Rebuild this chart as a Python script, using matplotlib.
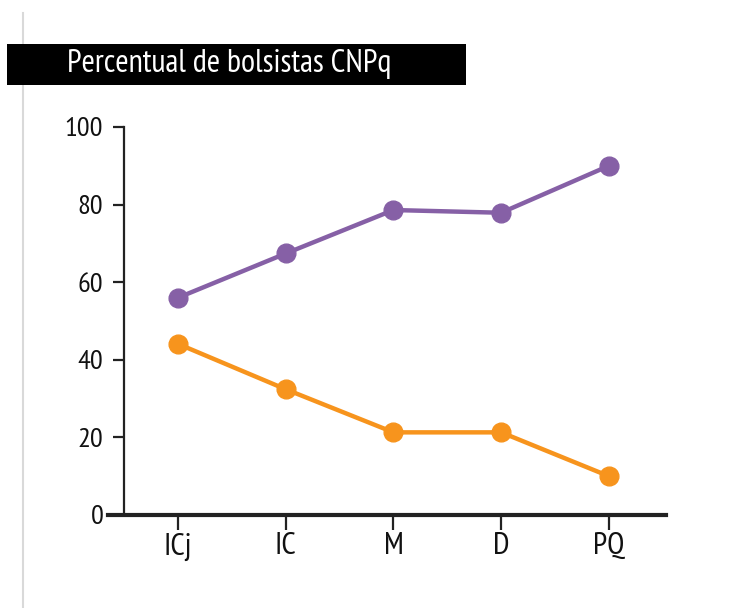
import matplotlib
matplotlib.use("Agg")
import matplotlib.pyplot as plt
from matplotlib import font_manager
from matplotlib.patches import Rectangle
from matplotlib.lines import Line2D

# data
categories = ["ICj", "IC", "M", "D", "PQ"]
purple_vals = [56.0, 67.4, 78.6, 77.9, 90.0]
orange_vals = [44.1, 32.4, 21.3, 21.3, 10.0]
y_ticks = [0, 20, 40, 60, 80, 100]
title = "Percentual de bolsistas CNPq"

PURPLE = "#8660a6"
ORANGE = "#f7941d"

# the original uses a condensed humanist sans; take the first one installed
installed = {f.name for f in font_manager.fontManager.ttflist}
prefs = ["PT Sans Narrow", "Fira Sans Condensed", "Roboto Condensed",
         "Encode Sans Condensed", "Open Sans Condensed", "Asap Condensed",
         "Liberation Sans Narrow", "Lato"]
main_font = next((f for f in prefs if f in installed), "DejaVu Sans")
plt.rcParams["font.family"] = [main_font, "DejaVu Sans"]

W, H = 730, 608
fig = plt.figure(figsize=(W / 100, H / 100), dpi=100)
fig.patch.set_facecolor("white")

# axes box in pixels: x 108..666, y 0 at 515, 100 at 127
ax = fig.add_axes([108 / W, (H - 515) / H, (666 - 108) / W, (515 - 127) / H])
ax.set_xlim(-0.65, 4.53)
ax.set_ylim(0, 100)

x = list(range(len(categories)))
ax.plot(x, purple_vals, color=PURPLE, lw=3.2, marker="o", ms=13.5,
        clip_on=False, zorder=3)
ax.plot(x, orange_vals, color=ORANGE, lw=3.2, marker="o", ms=13.5,
        clip_on=False, zorder=3)

for s in ["top", "right"]:
    ax.spines[s].set_visible(False)
ax.spines["left"].set_position(("data", -0.5))
ax.spines["left"].set_bounds(0, 100)
ax.spines["left"].set_linewidth(1.6)
ax.spines["bottom"].set_linewidth(3)
ax.spines["left"].set_color("#222222")
ax.spines["bottom"].set_color("#222222")

ax.set_yticks(y_ticks)
ax.set_yticklabels([str(v) for v in y_ticks])
ax.set_xticks(x)
ax.set_xticklabels(categories)
ax.tick_params(axis="y", length=8, width=1.6, pad=7, labelsize=20.5,
               color="#222222", labelcolor="#111111")
ax.tick_params(axis="x", length=10.5, width=1.6, pad=2, labelsize=22.5,
               color="#222222", labelcolor="#111111")

# title bar
fig.patches.append(Rectangle((7 / W, (H - 85) / H), (466 - 7) / W, 41 / H,
                             transform=fig.transFigure, facecolor="black",
                             edgecolor="none", zorder=1))
t = fig.text(67 / W, (H - 72) / H, title, color="white", fontsize=21,
             va="baseline", ha="left", zorder=2)

# light vertical rule at the left edge
fig.lines.append(Line2D([22.5 / W, 22.5 / W], [0, (H - 13) / H],
                        transform=fig.transFigure, color="#d9d9d9", lw=1.5,
                        zorder=0))

# fit the title to the width it has in the original
fig.canvas.draw()
tw = t.get_window_extent(fig.canvas.get_renderer()).width
t.set_fontsize(min(24, 21 * 325 / tw))

fig.savefig("out.png", dpi=100, facecolor="white")
